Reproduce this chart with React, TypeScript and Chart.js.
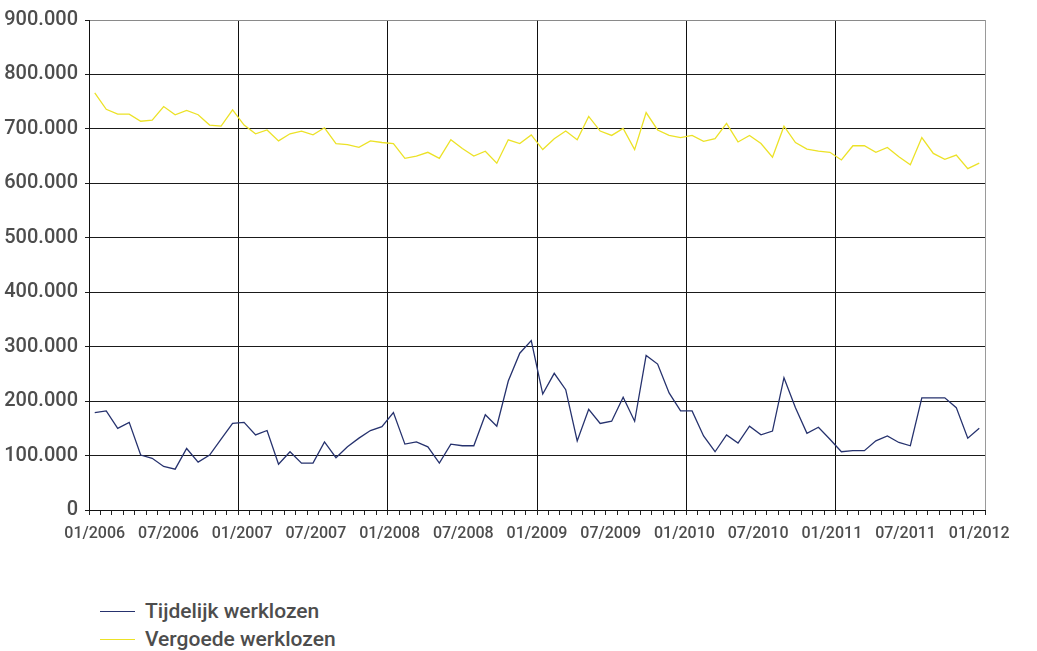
import React, { useEffect, useRef } from 'react';
import { Chart, registerables } from 'chart.js';

Chart.register(...registerables);

const xTickLabels = ['01/2006', '07/2006', '01/2007', '07/2007', '01/2008', '07/2008', '01/2009', '07/2009', '01/2010', '07/2010', '01/2011', '07/2011', '01/2012'];

const yTickValues = [0, 100000, 200000, 300000, 400000, 500000, 600000, 700000, 800000, 900000];

const seriesNames = ['Tijdelijk werklozen', 'Vergoede werklozen'];
const seriesColors = ['#26326e', '#ece227'];

// values in thousands
const tijdelijk = [
  179, 182, 150, 161, 101, 95, 80, 75, 113, 88, 101, 130, 159,
  161, 138, 146, 84, 107, 86, 86, 125, 96, 116, 132, 146, 153,
  179, 121, 125, 116, 86, 121, 118, 118, 175, 154, 237, 288, 311,
  213, 251, 221, 127, 185, 159, 163, 207, 163, 284, 268, 215, 182,
  182, 136, 107, 138, 123, 154, 138, 145, 243, 188, 141, 152, 130,
  107, 109, 109, 127, 136, 124, 118, 206, 206, 206, 188, 132, 150,
];

const vergoede = [
  766, 736, 727, 727, 714, 716, 741, 726, 734, 726, 707, 705, 735,
  707, 691, 698, 678, 691, 696, 689, 702, 673, 671, 666, 678, 675,
  673, 646, 650, 657, 646, 680, 664, 650, 659, 637, 680, 673, 689,
  662, 682, 696, 680, 723, 696, 688, 701, 662, 730, 698, 688, 684,
  688, 677, 682, 710, 676, 688, 673, 648, 705, 675, 663, 659, 657,
  643, 669, 669, 657, 666, 649, 634, 684, 655, 644, 652, 627, 637,
];

const FONT = 'Roboto, "DejaVu Sans", sans-serif';
const TEXT = '#4d4d4d';

export default function App() {
  const ref = useRef<HTMLCanvasElement | null>(null);

  useEffect(() => {
    const canvas = ref.current;
    if (!canvas) return;
    const N = tijdelijk.length;
    const toPts = (arr: number[]) => arr.map((v, i) => ({ x: i + 0.5, y: v * 1000 }));
    const chart = new Chart(canvas, {
      type: 'line',
      data: {
        datasets: [
          {
            label: seriesNames[0],
            data: toPts(tijdelijk),
            borderColor: seriesColors[0],
            borderWidth: 1.3,
            pointRadius: 0,
            tension: 0,
          },
          {
            label: seriesNames[1],
            data: toPts(vergoede),
            borderColor: seriesColors[1],
            borderWidth: 1.3,
            pointRadius: 0,
            tension: 0,
          },
        ],
      },
      options: {
        animation: false,
        responsive: false,
        devicePixelRatio: 1,
        layout: { padding: { top: 20, right: 52, bottom: 0, left: 0 } },
        plugins: { legend: { display: false }, tooltip: { enabled: false } },
        scales: {
          x: {
            type: 'linear',
            min: 0,
            max: N,
            afterBuildTicks: (scale: any) => {
              const ticks: any[] = [];
              for (let i = 0; i <= N; i++) ticks.push({ value: i });
              xTickLabels.forEach((_, k) => {
                ticks.push({ value: 0.5 + (k * (N - 1)) / (xTickLabels.length - 1) });
              });
              scale.ticks = ticks;
            },
            afterFit: (scale: any) => {
              scale.height = 50;
            },
            ticks: {
              autoSkip: false,
              maxRotation: 0,
              minRotation: 0,
              padding: 9,
              color: TEXT,
              font: { family: FONT, size: 16, weight: 500 },
              callback: (_v: any, i: number) => (i > N ? xTickLabels[i - N - 1] : ''),
            },
            grid: {
              lineWidth: 1,
              tickLength: 5,
              color: (ctx: any) => {
                const i = ctx.index;
                if (i > N) return 'rgba(0,0,0,0)';
                if (i === N) return '#9a9a9a';
                return i % 13 === 0 ? '#111111' : 'rgba(0,0,0,0)';
              },
              tickColor: (ctx: any) => (ctx.index > N ? 'rgba(0,0,0,0)' : '#222222'),
            },
            border: { color: '#111111', width: 1 },
          },
          y: {
            min: 0,
            max: 900000,
            afterBuildTicks: (scale: any) => {
              scale.ticks = yTickValues.map((v) => ({ value: v }));
            },
            afterFit: (scale: any) => {
              scale.width = 89;
            },
            ticks: {
              padding: 7,
              color: TEXT,
              font: { family: FONT, size: 20, weight: 500 },
              callback: (v: any) => (v === 0 ? '0' : `${Math.round(v / 1000)}.000`),
            },
            grid: {
              lineWidth: 1,
              tickLength: 4,
              color: (ctx: any) => (ctx.index === yTickValues.length - 1 ? '#8a8a8a' : '#1a1a1a'),
              tickColor: '#1a1a1a',
            },
            border: { color: '#111111', width: 1 },
          },
        },
      },
    } as any);
    return () => chart.destroy();
  }, []);

  const legendItem = (i: number, top: number) => (
    <div key={i} style={{ position: 'absolute', left: 0, top, height: 24, width: 400 }}>
      <div style={{ position: 'absolute', left: 100, top: 12, width: 35, height: 1, background: seriesColors[i] }} />
      <div
        style={{
          position: 'absolute',
          left: 145,
          top: 0,
          lineHeight: '24px',
          fontFamily: FONT,
          fontSize: 21,
          fontWeight: 500,
          color: TEXT,
          whiteSpace: 'nowrap',
        }}
      >
        {seriesNames[i]}
      </div>
    </div>
  );

  return (
    <div style={{ position: 'absolute', left: 0, top: 0, width: 1037, height: 651, background: '#fff', overflow: 'hidden' }}>
      <canvas ref={ref} width={1037} height={560} style={{ display: 'block', width: 1037, height: 560 }} />
      {legendItem(0, 599)}
      {legendItem(1, 627)}
    </div>
  );
}
